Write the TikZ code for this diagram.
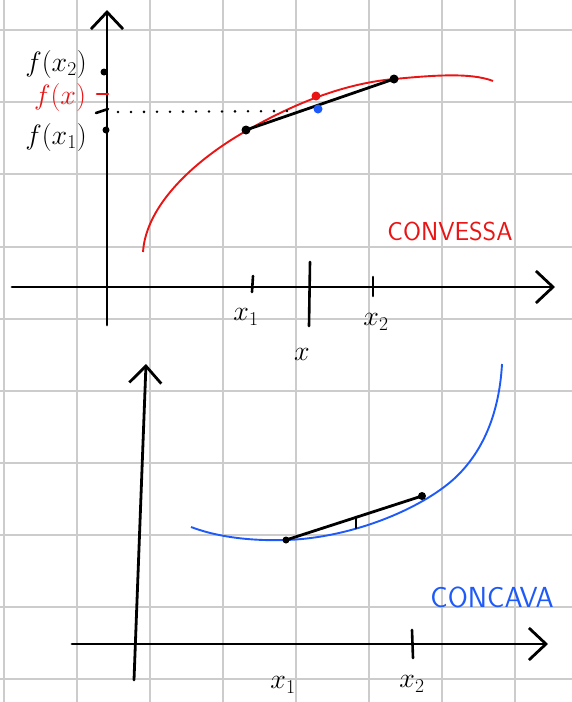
\RequirePackage{fix-cm}
\documentclass[tikz,border=0pt]{standalone}
\usetikzlibrary{arrows.meta}
\definecolor{penblue}{RGB}{30,90,250}
\definecolor{penred}{RGB}{235,20,20}
\begin{document}
\begin{tikzpicture}[
  x=1pt, y=-1pt,
  gridline/.style = {draw=black!20, line width=2pt},
  skaxis/.style = {line width=2.8pt, line cap=round, -{Straight Barb[length=17pt,width=32pt,line width=2.8pt]}},
  sktick/.style = {line width=2.6pt, line cap=round},
  skchord/.style = {line width=2.8pt, line cap=round},
  skdot/.style = {circle, fill=#1, inner sep=0pt, minimum size=9pt},
  sklbl/.style = {font=\fontsize{28}{28}\selectfont},
  sktitle/.style = {font=\fontsize{26}{26}\selectfont\sffamily}
]
  \useasboundingbox (0,0) rectangle (572,702);
  \fill[white] (0,0) rectangle (572,702);
  % quadretti
  \foreach \gx in {4,77,150,223,296,369,442,515}
    \draw[gridline] (\gx,0) -- (\gx,702);
  \foreach \gy in {30,102,174,247,319,391,463,535,607,679}
    \draw[gridline] (0,\gy) -- (572,\gy);

  % primo grafico
  \coordinate (topYlow) at (107,325);
  \coordinate (topYhigh) at (107,10);
  \coordinate (topXleft) at (12,287);
  \coordinate (topXright) at (555,287);
  \draw[skaxis] (topYlow) -- (topYhigh);
  \draw[skaxis] (topXleft) -- (topXright);
  \draw[penred, line width=1.9pt] (143,252) .. controls (146,205) and (195,160) .. (246,131)
    .. controls (290,106) and (340,84) .. (394,79)
    .. controls (430,75.7) and (470,72) .. (493,81);
  \coordinate (chordA) at (246,130);
  \coordinate (chordB) at (394,79);
  \draw[skchord] (chordA) -- (chordB);
  \node[skdot=black] (dotA) at (chordA) {};
  \node[skdot=black] (dotB) at (chordB) {};
  \node[skdot=penred] (dotRed) at (316,96) {};
  \node[skdot=penblue] (dotBlue) at (318,109) {};
  \coordinate (levelStart) at (118,112);
  \coordinate (levelEnd) at (300,111);
  \draw[line width=2.8pt, line cap=round, dash pattern=on 0pt off 13pt] (levelStart) -- (levelEnd);
  % tacche
  \draw[sktick] (253,276) -- (252,292);
  \draw[sktick] (310,262) -- (309,326);
  \draw[sktick] (373,277) -- (373,296);
  \node[skdot=black, minimum size=7pt] (dotFtwo) at (104,72) {};
  \draw[sktick, penred] (97,94) -- (108,94);
  \draw[sktick] (96,113) -- (108,109);
  \node[skdot=black, minimum size=7pt] (dotFone) at (106,130) {};
  % etichette
  \node[sklbl] (fxtwo) at (56,64) {$f(x_2)$};
  \node[sklbl, penred] (fx) at (60,97) {$f(x)$};
  \node[sklbl] (fxone) at (56,137) {$f(x_1)$};
  \node[sklbl] (xone) at (246,317) {$x_1$};
  \node[sklbl] (xmid) at (302,354) {$x$};
  \node[sklbl] (xtwo) at (376,322) {$x_2$};
  \node[sktitle, penred] (convessa) at (450,231) {CONVESSA};

  % secondo grafico
  \coordinate (botYlow) at (134,680);
  \coordinate (botYhigh) at (146,364);
  \coordinate (botXleft) at (72,644);
  \coordinate (botXright) at (548,644);
  \draw[skaxis] (botYlow) -- (botYhigh);
  \draw[skaxis] (botXleft) -- (botXright);
  \draw[penblue, line width=1.9pt] (191,527) .. controls (220,538) and (255,541) .. (286,540)
    .. controls (350,538) and (420,510) .. (455,478)
    .. controls (490,445) and (500,400) .. (502,364);
  \coordinate (chordC) at (286,540);
  \coordinate (chordD) at (422,496);
  \draw[skchord] (chordC) -- (chordD);
  \node[skdot=black, minimum size=7pt] (dotC) at (chordC) {};
  \node[skdot=black, minimum size=8pt] (dotD) at (chordD) {};
  \draw[sktick] (356,517) -- (356,528);
  \draw[sktick] (412,630) -- (413,658);
  \node[sklbl] (xoneb) at (283,685) {$x_1$};
  \node[sklbl] (xtwob) at (412,684) {$x_2$};
  \node[sktitle, penblue, font=\fontsize{29}{29}\selectfont\sffamily] (concava) at (492,597) {CONCAVA};
\end{tikzpicture}
\end{document}
